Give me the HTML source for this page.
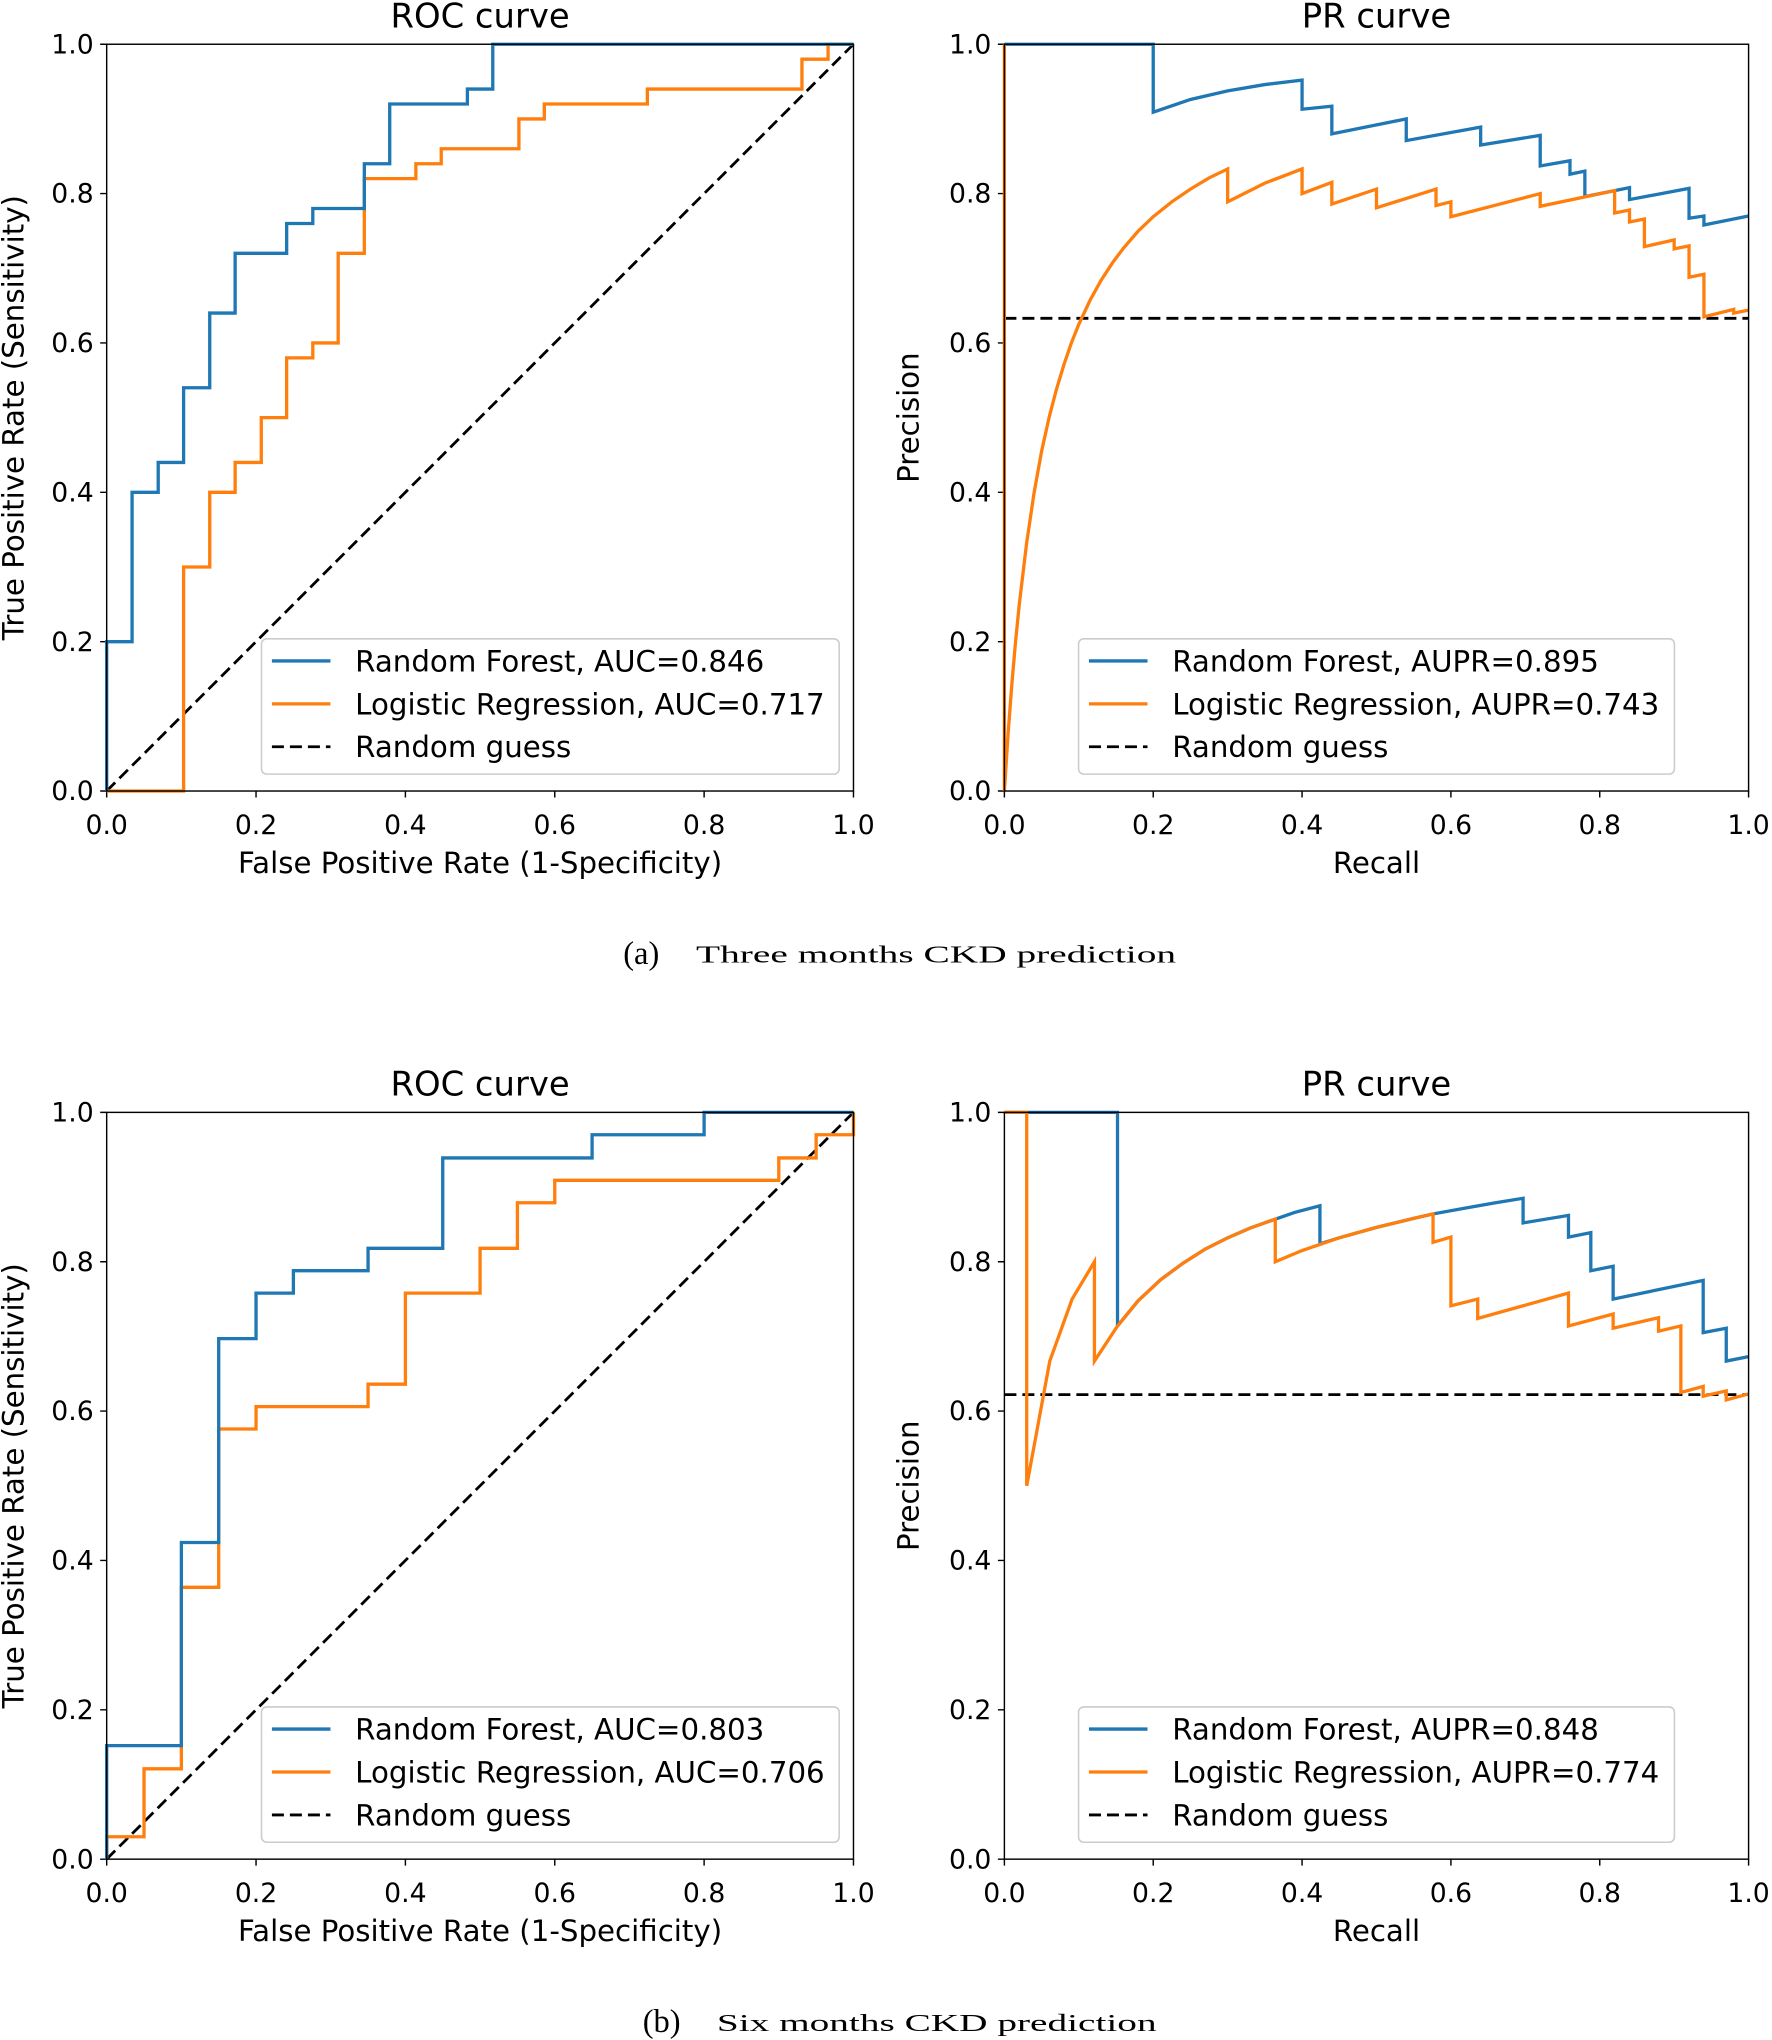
<!DOCTYPE html>
<html><head><meta charset="utf-8"><style>
html,body{margin:0;padding:0;background:#fff;}
svg{display:block;}
text{font-family:"DejaVu Sans","Liberation Sans",sans-serif;fill:#000;}
.t{font-size:20.5px;}
.l{font-size:22.5px;}
.g{font-size:22.5px;}
.ti{font-size:26px;}
.cap{font-family:"Liberation Serif",serif;font-size:19px;}
.b{fill:none;stroke:#1f77b4;stroke-width:3.3;vector-effect:non-scaling-stroke;stroke-linejoin:miter;}
.o{fill:none;stroke:#ff7f0e;stroke-width:3.3;vector-effect:non-scaling-stroke;stroke-linejoin:miter;}
.d{fill:none;stroke:#000;stroke-width:2.8;stroke-dasharray:12,6;vector-effect:non-scaling-stroke;}
.ax{fill:none;stroke:#000;stroke-width:1.1;}
.leg{fill:#fff;fill-opacity:.8;stroke:#ccc;stroke-width:1.2;}
</style></head><body>
<svg width="1772" height="2040" viewBox="0 0 1362 1568" preserveAspectRatio="none" xmlns="http://www.w3.org/2000/svg">
<defs>
<g id="yt">
<path class="ax" d="M-5,0H0M-5,-114.8H0M-5,-229.6H0M-5,-344.4H0M-5,-459.2H0M-5,-574H0"/>
<text class="t" x="-10" y="7" text-anchor="end">0.0</text>
<text class="t" x="-10" y="-107.8" text-anchor="end">0.2</text>
<text class="t" x="-10" y="-222.6" text-anchor="end">0.4</text>
<text class="t" x="-10" y="-337.4" text-anchor="end">0.6</text>
<text class="t" x="-10" y="-452.2" text-anchor="end">0.8</text>
<text class="t" x="-10" y="-567" text-anchor="end">1.0</text>
</g>
</defs>

<!-- ===== (a) ROC ===== -->
<g transform="translate(82,608)">
<use href="#yt"/>
<path class="ax" d="M0,0v5M114.8,0v5M229.6,0v5M344.4,0v5M459.2,0v5M574,0v5"/>
<text class="t" x="0" y="33" text-anchor="middle">0.0</text><text class="t" x="114.8" y="33" text-anchor="middle">0.2</text><text class="t" x="229.6" y="33" text-anchor="middle">0.4</text><text class="t" x="344.4" y="33" text-anchor="middle">0.6</text><text class="t" x="459.2" y="33" text-anchor="middle">0.8</text><text class="t" x="574" y="33" text-anchor="middle">1.0</text>
<g transform="scale(574,-574)">
<path class="d" d="M0,0L1,1"/>
<path class="o" d="M0,0H0.103V0.3H0.138V0.4H0.172V0.44H0.207V0.5H0.241V0.58H0.276V0.6H0.31V0.72H0.345V0.82H0.414V0.84H0.448V0.86H0.552V0.9H0.586V0.92H0.724V0.94H0.931V0.98H0.966V1H1"/>
<path class="b" d="M0,0V0.2H0.034V0.4H0.069V0.44H0.103V0.54H0.138V0.64H0.172V0.72H0.241V0.76H0.276V0.78H0.345V0.84H0.379V0.92H0.483V0.94H0.517V1H1"/>
</g>
<rect class="ax" x="0" y="-574" width="574" height="574"/>
<rect class="leg" x="119" y="-117" width="444" height="104" rx="4"/>
<path class="b" d="M127,-100H172"/><path class="o" d="M127,-67H172"/><path class="d" d="M127,-34H172"/>
<text class="g" x="191" y="-92">Random Forest, AUC=0.846</text>
<text class="g" x="191" y="-59">Logistic Regression, AUC=0.717</text>
<text class="g" x="191" y="-26">Random guess</text>
</g>
<text class="ti" x="369" y="21" text-anchor="middle">ROC curve</text>
<text class="l" x="369" y="671" text-anchor="middle">False Positive Rate (1-Specificity)</text>
<text class="l" transform="translate(18,321) rotate(-90)" text-anchor="middle">True Positive Rate (Sensitivity)</text>

<!-- ===== (a) PR ===== -->
<g transform="translate(772,608)">
<use href="#yt"/>
<path class="ax" d="M0,0v5M114.4,0v5M228.8,0v5M343.2,0v5M457.6,0v5M572,0v5"/>
<text class="t" x="0" y="33" text-anchor="middle">0.0</text><text class="t" x="114.4" y="33" text-anchor="middle">0.2</text><text class="t" x="228.8" y="33" text-anchor="middle">0.4</text><text class="t" x="343.2" y="33" text-anchor="middle">0.6</text><text class="t" x="457.6" y="33" text-anchor="middle">0.8</text><text class="t" x="572" y="33" text-anchor="middle">1.0</text>
<g transform="scale(572,-574)">
<path class="d" d="M0,0.633H1"/>
<path class="b" d="M0,1H0.2V0.909L0.25,0.926L0.3,0.9375L0.35,0.946L0.4,0.952V0.913L0.44,0.917V0.88L0.54,0.9V0.871L0.64,0.889V0.865L0.72,0.878V0.837L0.76,0.844V0.826L0.78,0.83V0.796L0.84,0.808V0.792L0.92,0.807V0.767L0.94,0.77V0.758L1,0.77"/>
<path class="o" d="M0,1V0L0.005,0.077L0.01,0.143L0.015,0.2L0.02,0.25L0.03,0.333L0.04,0.4L0.05,0.455L0.06,0.5L0.07,0.538L0.08,0.571L0.09,0.6L0.1,0.625L0.115,0.657L0.13,0.684L0.145,0.707L0.16,0.727L0.18,0.75L0.2,0.769L0.225,0.789L0.25,0.806L0.275,0.821L0.3,0.833V0.789L0.35,0.814L0.4,0.833V0.8L0.44,0.815V0.786L0.5,0.806V0.781L0.58,0.806V0.784L0.6,0.789V0.769L0.72,0.8V0.783L0.82,0.804V0.774L0.84,0.778V0.762L0.86,0.766V0.729L0.9,0.738V0.726L0.92,0.73V0.688L0.94,0.692V0.635L0.98,0.645V0.64L1,0.644"/>
</g>
<rect class="ax" x="0" y="-574" width="572" height="574"/>
<rect class="leg" x="57" y="-117" width="458" height="104" rx="4"/>
<path class="b" d="M65,-100H110"/><path class="o" d="M65,-67H110"/><path class="d" d="M65,-34H110"/>
<text class="g" x="129" y="-92">Random Forest, AUPR=0.895</text>
<text class="g" x="129" y="-59">Logistic Regression, AUPR=0.743</text>
<text class="g" x="129" y="-26">Random guess</text>
</g>
<text class="ti" x="1058" y="21" text-anchor="middle">PR curve</text>
<text class="l" x="1058" y="671" text-anchor="middle">Recall</text>
<text class="l" transform="translate(706,321) rotate(-90)" text-anchor="middle">Precision</text>

<text class="cap" x="479" y="741" style="font-size:25px">(a)</text>
<text class="cap" x="535" y="740" textLength="369" lengthAdjust="spacingAndGlyphs">Three months CKD prediction</text>

<!-- ===== (b) ROC ===== -->
<g transform="translate(82,1429)">
<use href="#yt"/>
<path class="ax" d="M0,0v5M114.8,0v5M229.6,0v5M344.4,0v5M459.2,0v5M574,0v5"/>
<text class="t" x="0" y="33" text-anchor="middle">0.0</text><text class="t" x="114.8" y="33" text-anchor="middle">0.2</text><text class="t" x="229.6" y="33" text-anchor="middle">0.4</text><text class="t" x="344.4" y="33" text-anchor="middle">0.6</text><text class="t" x="459.2" y="33" text-anchor="middle">0.8</text><text class="t" x="574" y="33" text-anchor="middle">1.0</text>
<g transform="scale(574,-574)">
<path class="d" d="M0,0L1,1"/>
<path class="o" d="M0,0V0.03H0.05V0.121H0.1V0.364H0.15V0.576H0.2V0.606H0.35V0.636H0.4V0.758H0.5V0.818H0.55V0.879H0.6V0.909H0.9V0.939H0.95V0.97H1V1"/>
<path class="b" d="M0,0V0.152H0.1V0.424H0.15V0.697H0.2V0.758H0.25V0.788H0.35V0.818H0.45V0.939H0.65V0.97H0.8V1H1"/>
</g>
<rect class="ax" x="0" y="-574" width="574" height="574"/>
<rect class="leg" x="119" y="-117" width="444" height="104" rx="4"/>
<path class="b" d="M127,-100H172"/><path class="o" d="M127,-67H172"/><path class="d" d="M127,-34H172"/>
<text class="g" x="191" y="-92">Random Forest, AUC=0.803</text>
<text class="g" x="191" y="-59">Logistic Regression, AUC=0.706</text>
<text class="g" x="191" y="-26">Random guess</text>
</g>
<text class="ti" x="369" y="842" text-anchor="middle">ROC curve</text>
<text class="l" x="369" y="1492" text-anchor="middle">False Positive Rate (1-Specificity)</text>
<text class="l" transform="translate(18,1142) rotate(-90)" text-anchor="middle">True Positive Rate (Sensitivity)</text>

<!-- ===== (b) PR ===== -->
<g transform="translate(772,1429)">
<use href="#yt"/>
<path class="ax" d="M0,0v5M114.4,0v5M228.8,0v5M343.2,0v5M457.6,0v5M572,0v5"/>
<text class="t" x="0" y="33" text-anchor="middle">0.0</text><text class="t" x="114.4" y="33" text-anchor="middle">0.2</text><text class="t" x="228.8" y="33" text-anchor="middle">0.4</text><text class="t" x="343.2" y="33" text-anchor="middle">0.6</text><text class="t" x="457.6" y="33" text-anchor="middle">0.8</text><text class="t" x="572" y="33" text-anchor="middle">1.0</text>
<g transform="scale(572,-574)">
<path class="d" d="M0,0.622H1"/>
<path class="b" d="M0,1H0.152V0.714L0.18,0.748L0.21,0.776L0.24,0.798L0.27,0.817L0.3,0.832L0.33,0.845L0.364,0.857L0.39,0.866L0.424,0.875V0.824L0.45,0.832L0.5,0.846L0.55,0.858L0.576,0.864L0.62,0.872L0.66,0.879L0.697,0.885V0.852L0.758,0.862V0.833L0.788,0.839V0.788L0.818,0.794V0.75L0.939,0.775V0.705L0.97,0.711V0.667L1,0.673"/>
<path class="o" d="M0,1H0.03V0.5L0.061,0.667L0.091,0.75L0.121,0.8V0.667L0.152,0.714L0.18,0.748L0.21,0.776L0.24,0.798L0.27,0.817L0.3,0.832L0.33,0.845L0.364,0.857V0.8L0.4,0.815L0.45,0.832L0.5,0.846L0.55,0.858L0.576,0.864V0.826L0.6,0.833V0.741L0.636,0.75V0.724L0.758,0.758V0.714L0.818,0.73V0.711L0.879,0.725V0.707L0.909,0.714V0.625L0.939,0.633V0.62L0.97,0.627V0.615L1,0.623"/>
</g>
<rect class="ax" x="0" y="-574" width="572" height="574"/>
<rect class="leg" x="57" y="-117" width="458" height="104" rx="4"/>
<path class="b" d="M65,-100H110"/><path class="o" d="M65,-67H110"/><path class="d" d="M65,-34H110"/>
<text class="g" x="129" y="-92">Random Forest, AUPR=0.848</text>
<text class="g" x="129" y="-59">Logistic Regression, AUPR=0.774</text>
<text class="g" x="129" y="-26">Random guess</text>
</g>
<text class="ti" x="1058" y="842" text-anchor="middle">PR curve</text>
<text class="l" x="1058" y="1492" text-anchor="middle">Recall</text>
<text class="l" transform="translate(706,1142) rotate(-90)" text-anchor="middle">Precision</text>

<text class="cap" x="494" y="1562" style="font-size:25px">(b)</text>
<text class="cap" x="551" y="1561" textLength="338" lengthAdjust="spacingAndGlyphs">Six months CKD prediction</text>
</svg>
</body></html>
